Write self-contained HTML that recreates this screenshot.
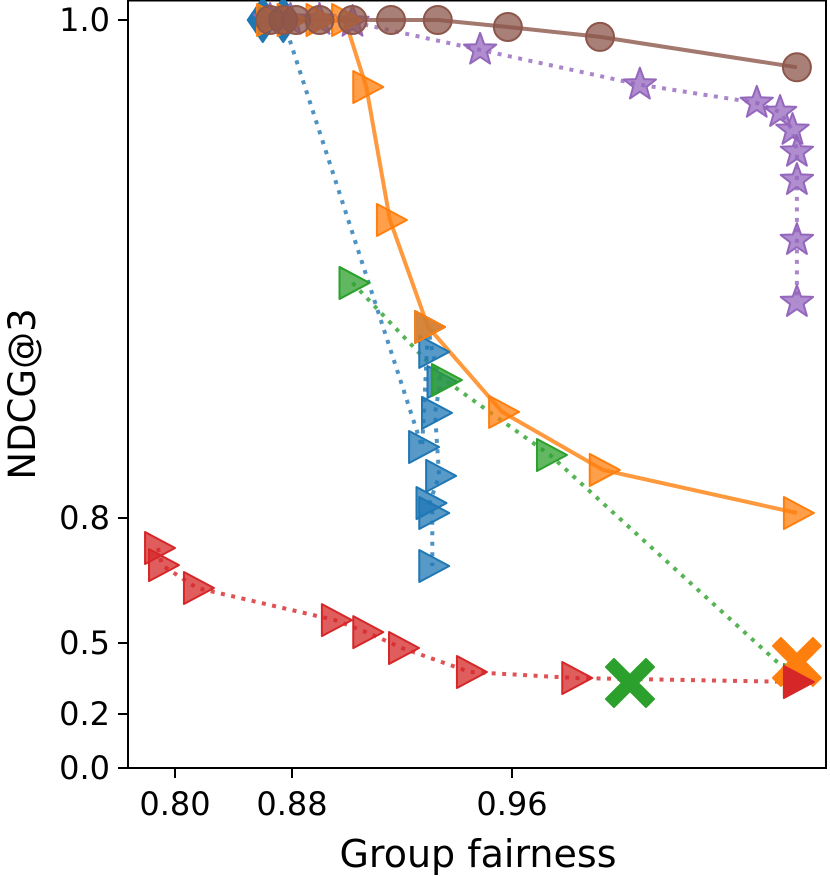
<!DOCTYPE html>
<html><head><meta charset="utf-8"><style>
html,body{margin:0;padding:0;background:#fff;}
svg{display:block;font-family:"DejaVu Sans","Liberation Sans",sans-serif;}
</style></head><body>
<svg id="chart" width="830" height="876" viewBox="0 0 830 876" xmlns="http://www.w3.org/2000/svg"></svg>
<script>
const xTickValues=[0.80,0.88,0.96];
const xTickLabels=["0.80","0.88","0.96"];
const yTickValues=[0.0,0.2,0.5,0.8,1.0];
const yTickLabels=["0.0","0.2","0.5","0.8","1.0"];
const brownX=[0.865,0.874,0.8815,0.890,0.902,0.916,0.933,0.9585,0.992,1.0636];
const brownY=[1,1,1,1,1,1,1,0.9972,0.9932,0.981];
const purpleX=[0.865,0.879,0.890,0.902,0.9484,1.0065,1.049,1.0575,1.062,1.0636,1.0636,1.0636,1.0636];
const purpleY=[1,1,1,0.9992,0.988,0.974,0.9667,0.963,0.9558,0.947,0.9357,0.9116,0.8867];
const orangeX=[0.865,0.879,0.890,0.8993,0.907,0.9156,0.9295,0.9564,0.993,1.0636];
const orangeY=[1,1,1,1,0.9731,0.9197,0.8767,0.8426,0.8193,0.802];
const blueDiamX=[0.860,0.874];
const blueDiamY=[1,1];
const blueX=[0.9273,0.9295,0.931,0.934,0.932,0.9335,0.930,0.931,0.931];
const blueY=[0.8285,0.8767,0.8667,0.8546,0.8422,0.8169,0.806,0.802,0.6848];
const greenX=[0.902,0.9356,0.9738,1.0636];
const greenY=[0.8944,0.8554,0.8253,0.3437];
const greenCrossX=[1.0029];
const greenCrossY=[0.331];
const orangeCrossX=[1.0636];
const orangeCrossY=[0.42];
const redX=[0.7884,0.7911,0.815,0.8956,0.907,0.920,0.9447,0.983,1.0636];
const redY=[0.728,0.687,0.632,0.555,0.526,0.479,0.3775,0.352,0.335];

const xKnotsV=[0.80,0.88,0.96],xKnotsP=[175,292,512];
const yKnotsV=[0,0.2,0.5,0.8,1.0],yKnotsP=[768,714,643,518,20];
function pw(v,kv,kp){let i=0;if(v<=kv[0])i=0;else if(v>=kv[kv.length-1])i=kv.length-2;else{while(v>kv[i+1])i++;}
 return kp[i]+(v-kv[i])*(kp[i+1]-kp[i])/(kv[i+1]-kv[i]);}
const sx=v=>pw(v,xKnotsV,xKnotsP), sy=v=>pw(v,yKnotsV,yKnotsP);
const NS="http://www.w3.org/2000/svg", svg=document.getElementById('chart');
function mk(tag,attrs,parent){const e=document.createElementNS(NS,tag);for(const k in attrs)e.setAttribute(k,attrs[k]);(parent||svg).appendChild(e);return e;}
const C={blue:"#1f77b4",orange:"#ff7f0e",green:"#2ca02c",red:"#d62728",purple:"#9467bd",brown:"#8c564b"};
function line(xs,ys,color,dotted,name){const p=xs.map((x,i)=>sx(x).toFixed(1)+","+sy(ys[i]).toFixed(1)).join(" ");
 const e=mk('polyline',{points:p,fill:'none',stroke:color,'stroke-width':4,'stroke-opacity':0.8,'stroke-dasharray':dotted?'4 6.5':'none'});
 
 }
function shape(kind,cx,cy,color,op){let d;
 if(kind==='tri'){d=`M${cx-13},${cy-16} L${cx+17},${cy} L${cx-13},${cy+16} Z`;}
 else if(kind==='dia'){d=`M${cx},${cy-22} L${cx+15},${cy} L${cx},${cy+22} L${cx-15},${cy} Z`;}
 else if(kind==='star'){let pts=[];for(let k=0;k<10;k++){const r=k%2?7:17,a=-Math.PI/2+k*Math.PI/5;pts.push((cx+r*Math.cos(a)).toFixed(1)+","+(cy+r*Math.sin(a)).toFixed(1));}d="M"+pts.join(" L")+" Z";}
 else if(kind==='x'){const a=8,b=24;d=`M${cx-b+a},${cy-b} L${cx},${cy-a} L${cx+b-a},${cy-b} L${cx+b},${cy-b+a} L${cx+a},${cy} L${cx+b},${cy+b-a} L${cx+b-a},${cy+b} L${cx},${cy+a} L${cx-b+a},${cy+b} L${cx-b},${cy+b-a} L${cx-a},${cy} L${cx-b},${cy-b+a} Z`;}
 if(kind==='circ')return mk('circle',{cx:cx,cy:cy,r:14,fill:color,'fill-opacity':op,stroke:color,'stroke-width':2});
 return mk('path',{d:d,fill:color,'fill-opacity':op,stroke:color,'stroke-width':2,'stroke-linejoin':'round'});}
function marks(xs,ys,kind,color,name,op){xs.forEach((x,i)=>{const e=shape(kind,sx(x),sy(ys[i]),color,op===undefined?0.75:op);
 
 });}

const fr=mk('rect',{x:128,y:0.5,width:698,height:767.5,fill:'none',stroke:'#000','stroke-width':2});



line(blueDiamX.concat(blueX),blueDiamY.concat(blueY),C.blue,true,'series-blue-line');
line(greenX,greenY,C.green,true,'series-green-line');
line(redX,redY,C.red,true,'series-red-line');
line(purpleX,purpleY,C.purple,true,'series-purple-line');
line(orangeX,orangeY,C.orange,false,'series-orange-line');
line(brownX,brownY,C.brown,false,'series-brown-line');

marks(blueDiamX,blueDiamY,'dia',C.blue,'blue-diamond-point',1);
marks(blueX,blueY,'tri',C.blue,'blue-point');
marks(greenX,greenY,'tri',C.green,'green-point');
marks(purpleX,purpleY,'star',C.purple,'purple-point');
marks(orangeX,orangeY,'tri',C.orange,'orange-point');
marks(brownX,brownY,'circ',C.brown,'brown-point');
marks(orangeCrossX,orangeCrossY,'x',C.orange,'orange-cross-point',1);
marks(greenCrossX,greenCrossY,'x',C.green,'green-cross-point',1);
marks(redX.slice(0,-1),redY.slice(0,-1),'tri',C.red,'red-point');
marks(redX.slice(-1),redY.slice(-1),'tri',C.red,'red-point',1);

xTickValues.forEach((v,i)=>{const x=sx(v);
 const t=mk('line',{x1:x,y1:768,x2:x,y2:778,stroke:'#000','stroke-width':2});
 
 
 const l=mk('text',{x:x,y:815,'text-anchor':'middle','font-size':32});l.textContent=xTickLabels[i];
 
 });
yTickValues.forEach((v,i)=>{const y=sy(v);
 const t=mk('line',{x1:118,y1:y,x2:128,y2:y,stroke:'#000','stroke-width':2});
 
 
 const l=mk('text',{x:110,y:y+11,'text-anchor':'end','font-size':32});l.textContent=yTickLabels[i];
 
 });
const xl=mk('text',{x:478,y:867,'text-anchor':'middle','font-size':38});xl.textContent='Group fairness';


const yl=mk('text',{x:0,y:0,'text-anchor':'middle','font-size':37,transform:'translate(35,394) rotate(-90)'});yl.textContent='NDCG@3';


</script>
</body></html>
